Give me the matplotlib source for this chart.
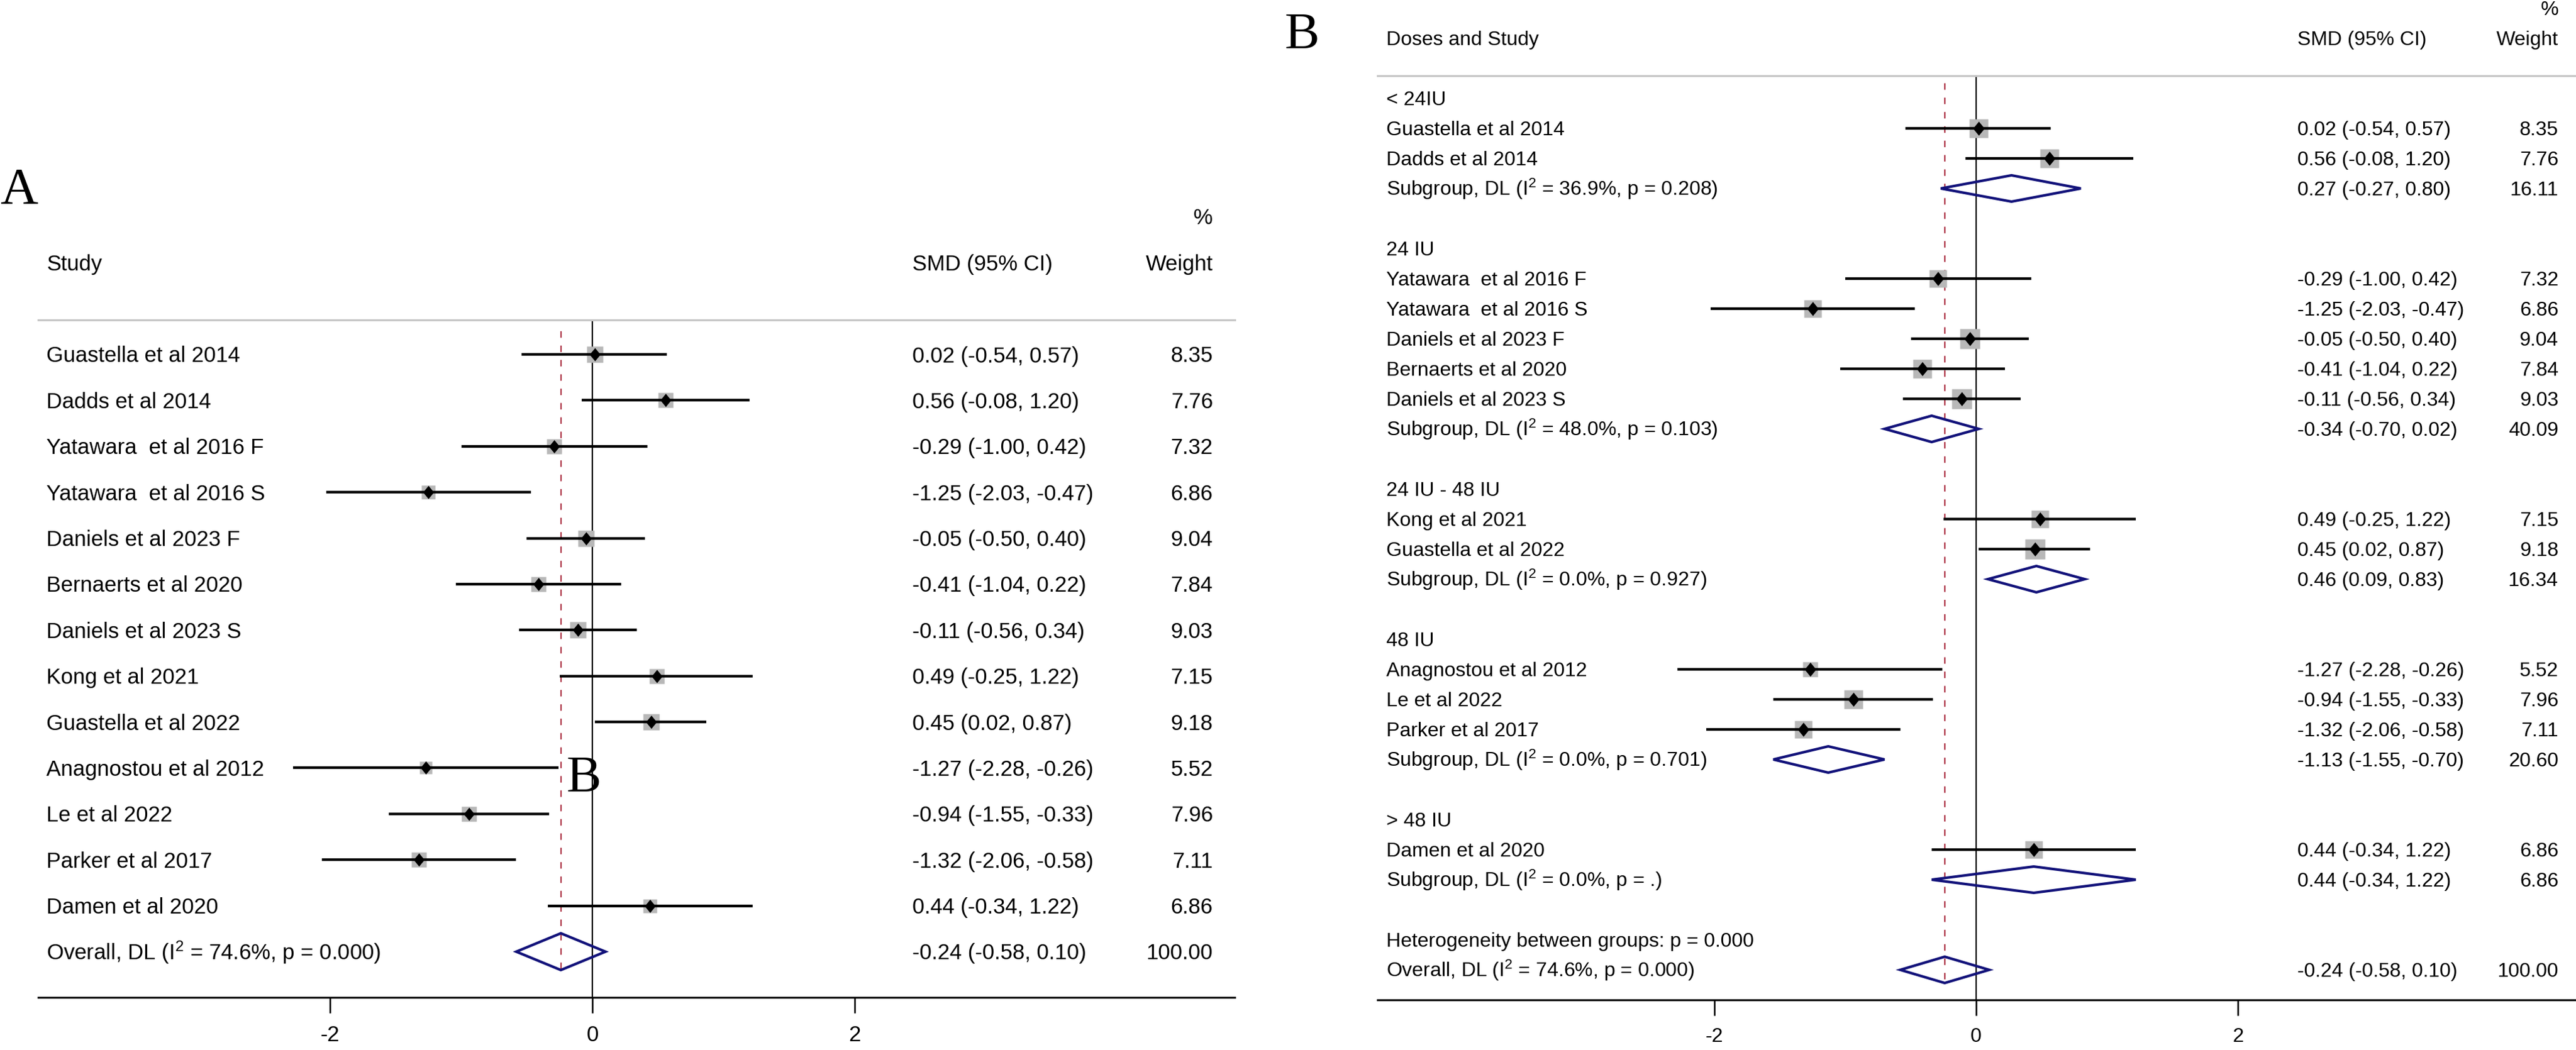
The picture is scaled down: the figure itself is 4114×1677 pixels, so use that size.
import matplotlib
matplotlib.use('Agg')
import matplotlib.pyplot as plt
from matplotlib.patches import Polygon
from matplotlib.transforms import blended_transform_factory

plt.rcParams['font.family'] = ['Liberation Sans', 'DejaVu Sans']
plt.rcParams['mathtext.fontset'] = 'custom'
plt.rcParams['mathtext.rm'] = 'Liberation Sans'
plt.rcParams['mathtext.it'] = 'Liberation Sans'
plt.rcParams['lines.scale_dashes'] = False

# ── data ───────────────────────────────────────────────────────────────────
studies = ["Guastella et al 2014", "Dadds et al 2014", "Yatawara  et al 2016 F",
           "Yatawara  et al 2016 S", "Daniels et al 2023 F", "Bernaerts et al 2020",
           "Daniels et al 2023 S", "Kong et al 2021", "Guastella et al 2022",
           "Anagnostou et al 2012", "Le et al 2022", "Parker et al 2017",
           "Damen et al 2020"]
smd = [0.02, 0.56, -0.29, -1.25, -0.05, -0.41, -0.11, 0.49, 0.45, -1.27, -0.94, -1.32, 0.44]
ci_lo = [-0.54, -0.08, -1.00, -2.03, -0.50, -1.04, -0.56, -0.25, 0.02, -2.28, -1.55, -2.06, -0.34]
ci_hi = [0.57, 1.20, 0.42, -0.47, 0.40, 0.22, 0.34, 1.22, 0.87, -0.26, -0.33, -0.58, 1.22]
weight = [8.35, 7.76, 7.32, 6.86, 9.04, 7.84, 9.03, 7.15, 9.18, 5.52, 7.96, 7.11, 6.86]

overall_smd, overall_lo, overall_hi, overall_wt = -0.24, -0.58, 0.10, 100.00
overall_i2, overall_p = "74.6%", "0.000"

dose_names = ["< 24IU", "24 IU", "24 IU - 48 IU", "48 IU", "> 48 IU"]
dose_members = [[0, 1], [2, 3, 4, 5, 6], [7, 8], [9, 10, 11], [12]]
dose_smd = [0.27, -0.34, 0.46, -1.13, 0.44]
dose_lo = [-0.27, -0.70, 0.09, -1.55, -0.34]
dose_hi = [0.80, 0.02, 0.83, -0.70, 1.22]
dose_wt = [16.11, 40.09, 16.34, 20.60, 6.86]
dose_i2 = ["36.9%", "48.0%", "0.0%", "0.0%", "0.0%"]
dose_p = ["0.208", "0.103", "0.927", "0.701", "."]
het_between_p = "0.000"

xticks = [-2, 0, 2]

W, H = 4114, 1677
NAVY = '#12127a'
MAROON = '#ad3446'
GREY_SQ = '#b8b8b8'


def es_text(e, l, h):
    return f"{e:.2f} ({l:.2f}, {h:.2f})"


def pooled_label(prefix, i2, p):
    return prefix + r" (I$^{2}$" + f" = {i2}, p = {p})"


# rows: (kind, label, smd, lo, hi, weight)
rows_a = []
for i in range(len(studies)):
    rows_a.append(("study", studies[i], smd[i], ci_lo[i], ci_hi[i], weight[i]))
rows_a.append(("pooled", pooled_label("Overall, DL", overall_i2, overall_p),
               overall_smd, overall_lo, overall_hi, overall_wt))

rows_b = []
for g, name in enumerate(dose_names):
    rows_b.append(("text", name, None, None, None, None))
    for i in dose_members[g]:
        rows_b.append(("study", studies[i], smd[i], ci_lo[i], ci_hi[i], weight[i]))
    rows_b.append(("pooled", pooled_label("Subgroup, DL", dose_i2[g], dose_p[g]),
                   dose_smd[g], dose_lo[g], dose_hi[g], dose_wt[g]))
    rows_b.append(("blank", "", None, None, None, None))
rows_b.append(("text", "Heterogeneity between groups: p = " + het_between_p,
               None, None, None, None))
rows_b.append(("pooled", pooled_label("Overall, DL", overall_i2, overall_p),
               overall_smd, overall_lo, overall_hi, overall_wt))

fig = plt.figure(figsize=(W / 100, H / 100), dpi=100)
tx = fig.add_axes([0, 0, 1, 1])
tx.set_xlim(0, W)
tx.set_ylim(H, 0)
tx.axis('off')


def draw_panel(rows, geo, header_left):
    left, right, top, bottom = geo['left'], geo['right'], geo['top'], geo['bottom']
    zero, unit, row0, step = geo['zero'], geo['unit'], geo['row0'], geo['step']
    fs = geo['fs']
    ax = fig.add_axes([left / W, 1 - bottom / H, (right - left) / W, (bottom - top) / H])
    ax.set_xlim((left - zero) / unit, (right - zero) / unit)
    ax.set_ylim((bottom - row0) / step, (top - row0) / step)
    ax.patch.set_alpha(0)
    for s in ['left', 'right']:
        ax.spines[s].set_visible(False)
    ax.spines['top'].set_color('#c6c6c6')
    ax.spines['top'].set_linewidth(2.3)
    ax.spines['bottom'].set_linewidth(2.2)
    ax.set_yticks([])
    ax.set_xticks(xticks)
    ax.set_xticklabels([str(t) for t in xticks])
    ax.tick_params(axis='x', length=18, width=1.8, pad=14, labelsize=fs, direction='out')

    ax.axvline(0, color='black', lw=1.6, zorder=1)
    n = len(rows)
    ax.plot([overall_smd, overall_smd], [-0.5, n - 0.5], color=MAROON, lw=1.6,
            dashes=(7.5, 9), zorder=2)

    trans = blended_transform_factory(tx.transData, ax.transData)
    off = geo['cap'] / step
    ax.text(geo['name_x'], -2 + off, header_left, transform=trans, fontsize=fs)
    ax.text(geo['es_x'], -2 + off, "SMD (95% CI)", transform=trans, fontsize=fs)
    ax.text(geo['wt_x'], -2 + off, "Weight", transform=trans, fontsize=fs, ha='right')
    ax.text(geo['wt_x'], -3 + off, "%", transform=trans, fontsize=fs, ha='right')

    diamond_marker = [(0, 1), (0.82, 0), (0, -1), (-0.82, 0), (0, 1)]
    for r, (kind, label, e, l, h, w) in enumerate(rows):
        if kind == "blank":
            continue
        ax.text(geo['name_x'], r + off, label, transform=trans, fontsize=fs)
        if kind == "text":
            continue
        ax.text(geo['es_x'], r + off, es_text(e, l, h), transform=trans, fontsize=fs)
        ax.text(geo['wt_x'], r + off, f"{w:.2f}", transform=trans, fontsize=fs, ha='right')
        if kind == "study":
            side = geo['k'] * w ** 0.5 * 0.72
            ax.plot([e], [r], marker='s', ms=side, color=GREY_SQ, mec='none', zorder=3)
            ax.hlines(r, l, h, color='black', lw=3.1, zorder=4)
            ax.plot([e], [r], marker=diamond_marker, ms=geo['dm'], color='black',
                    mec='none', zorder=5)
        else:
            hh = geo['dh']
            poly = Polygon([(l, r), (e, r - hh), (h, r), (e, r + hh)], closed=True,
                           fill=False, edgecolor=NAVY, lw=3.0, joinstyle='miter', zorder=4)
            ax.add_patch(poly)
    return ax


geo_a = dict(left=61, right=1972, top=511, bottom=1593, zero=946, unit=209.5,
             row0=566, step=73.38, fs=25, cap=12.5, name_x=74, es_x=1457, wt_x=1937,
             k=8.7, dm=15.2, dh=0.40)
geo_b = dict(left=2200, right=4112, top=121, bottom=1597, zero=3156, unit=209,
             row0=157, step=48, fs=23, cap=11, name_x=2214, es_x=3669, wt_x=4086,
             k=10.5, dm=16.2, dh=0.4375)

draw_panel(rows_a, geo_a, "Study")
draw_panel(rows_b, geo_b, "Doses and Study")

serif = ['Liberation Serif', 'DejaVu Serif']
tx.text(0, 324, "A", family=serif, fontsize=60, va='baseline')
tx.text(2052, 77, "B", family=serif, fontsize=60, va='baseline')
tx.text(905, 1264, "B", family=serif, fontsize=60, va='baseline')

fig.savefig("out.png", dpi=100)
